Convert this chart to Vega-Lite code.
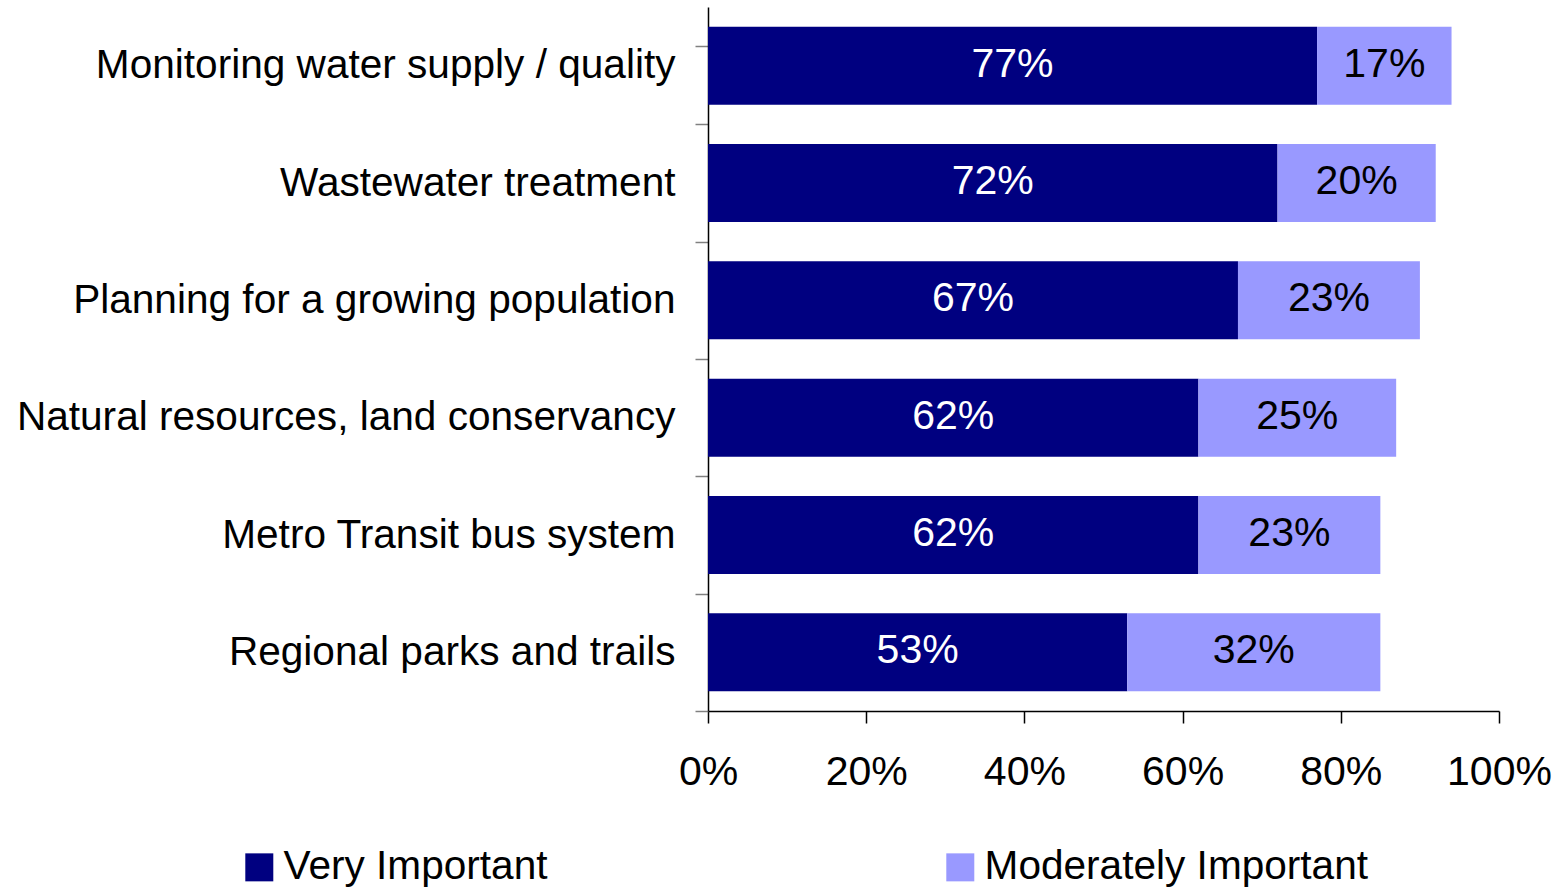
{
  "$schema": "https://vega.github.io/schema/vega-lite/v6.json",
  "autosize": "none",
  "width": 791,
  "height": 704,
  "padding": {"left": 708, "top": 7, "right": 61, "bottom": 178},
  "background": "white",
  "config": {
    "view": {"stroke": null},
    "font": "Liberation Sans"
  },
  "data": {
    "values": [
      {"item": "Monitoring water supply / quality", "level": "Very Important", "value": 0.77},
      {"item": "Monitoring water supply / quality", "level": "Moderately Important", "value": 0.17},
      {"item": "Wastewater treatment", "level": "Very Important", "value": 0.72},
      {"item": "Wastewater treatment", "level": "Moderately Important", "value": 0.20},
      {"item": "Planning for a growing population", "level": "Very Important", "value": 0.67},
      {"item": "Planning for a growing population", "level": "Moderately Important", "value": 0.23},
      {"item": "Natural resources, land conservancy", "level": "Very Important", "value": 0.62},
      {"item": "Natural resources, land conservancy", "level": "Moderately Important", "value": 0.25},
      {"item": "Metro Transit bus system", "level": "Very Important", "value": 0.62},
      {"item": "Metro Transit bus system", "level": "Moderately Important", "value": 0.23},
      {"item": "Regional parks and trails", "level": "Very Important", "value": 0.53},
      {"item": "Regional parks and trails", "level": "Moderately Important", "value": 0.32}
    ]
  },
  "transform": [
    {"calculate": "datum.level === 'Very Important' ? 0 : 1", "as": "rank"},
    {"stack": "value", "groupby": ["item"], "sort": [{"field": "rank", "order": "ascending"}], "as": ["v0", "v1"]},
    {"calculate": "(datum.v0 + datum.v1) / 2", "as": "mid"}
  ],
  "encoding": {
    "y": {
      "field": "item",
      "type": "nominal",
      "sort": null,
      "title": null,
      "scale": {"paddingInner": 0.335, "paddingOuter": 0.1675},
      "axis": {
        "bandPosition": 1,
        "tickExtra": true,
        "tickOffset": 19.65,
        "labelOffset": -19.65,
        "domainColor": "#000000",
        "domainWidth": 1.5,
        "tickColor": "#808080",
        "tickWidth": 1.5,
        "tickSize": 13,
        "labelFontSize": 40.6,
        "labelColor": "#000000",
        "labelPadding": 20,
        "labelLimit": 800
      }
    }
  },
  "layer": [
    {
      "mark": {"type": "bar"},
      "encoding": {
        "x": {
          "field": "v0",
          "type": "quantitative",
          "scale": {"domain": [0, 1]},
          "title": null,
          "axis": {
            "format": ".0%",
            "values": [0, 0.2, 0.4, 0.6, 0.8, 1],
            "grid": false,
            "domainColor": "#000000",
            "domainWidth": 1.5,
            "tickColor": "#000000",
            "tickWidth": 1.5,
            "tickSize": 12,
            "labelFontSize": 41,
            "labelColor": "#000000",
            "labelPadding": 29,
            "labelFlush": false,
            "labelOverlap": false
          }
        },
        "x2": {"field": "v1"},
        "color": {
          "field": "level",
          "type": "nominal",
          "scale": {"domain": ["Very Important", "Moderately Important"], "range": ["#000080", "#9999FF"]},
          "legend": {
            "title": null,
            "orient": "none",
            "direction": "horizontal",
            "legendX": -469,
            "legendY": 840,
            "symbolType": "square",
            "symbolSize": 784,
            "symbolStrokeWidth": 0,
            "symbolOpacity": 1,
            "labelFontSize": 40.6,
            "labelColor": "#000000",
            "labelOffset": 4,
            "columnPadding": 392,
            "labelLimit": 800
          }
        }
      }
    },
    {
      "mark": {"type": "text", "fontSize": 41, "align": "center", "baseline": "middle", "dy": -1},
      "encoding": {
        "x": {"field": "mid", "type": "quantitative"},
        "text": {"field": "value", "type": "quantitative", "format": ".0%"},
        "color": {"condition": {"test": "datum.level === 'Very Important'", "value": "#ffffff"}, "value": "#000000"}
      }
    }
  ]
}
